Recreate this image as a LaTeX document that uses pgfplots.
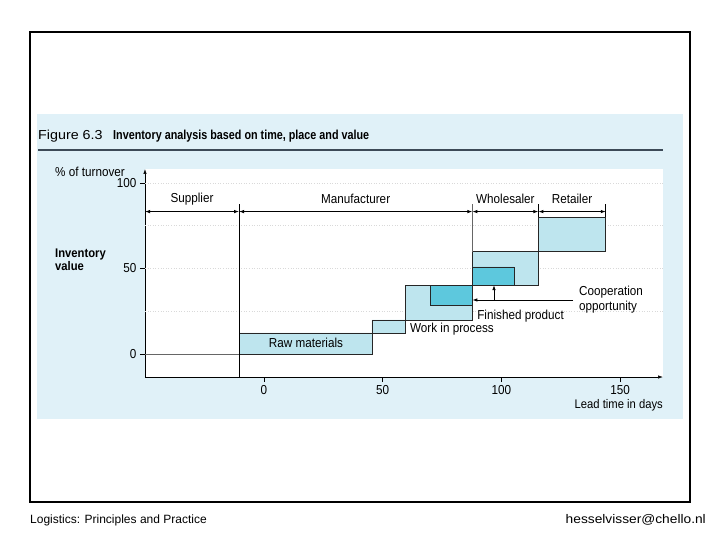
\documentclass[border=0pt]{standalone}
\usepackage{pgfplots}
\pgfplotsset{compat=1.18}
\usetikzlibrary{arrows.meta}
\usepackage{fontspec}
\setmainfont[FakeStretch=0.9]{Liberation Sans}
\newfontfamily\footfont{Liberation Sans}
\newfontfamily\widefont[FakeStretch=1.1]{Liberation Sans}
\newfontfamily\titlefont[FakeStretch=0.83]{Liberation Sans}
\definecolor{panel}{HTML}{E0F1F8}
\definecolor{lightbox}{HTML}{BEE5EE}
\definecolor{darkbox}{HTML}{5DC8DD}
\definecolor{rulecol}{HTML}{3C4A57}
\newcommand{\tf}{\fontsize{13}{15}\selectfont}
\begin{document}
\begin{tikzpicture}[x=1pt,y=-1pt]
\path[use as bounding box] (0,0) rectangle (720,540);
\fill[white] (0,0) rectangle (720,540);
\draw[line width=2pt] (30,32) rectangle (690,502);
\fill[panel] (37,114) rectangle (683,419);
\node[anchor=west,inner sep=0pt,font=\widefont\fontsize{13}{15}\selectfont] at (38,136) {Figure 6.3};
\node[anchor=west,inner sep=0pt,font=\titlefont\bfseries\fontsize{13}{15}\selectfont] at (113,136) {Inventory analysis based on time, place and value};
\draw[line width=1.3pt, rulecol] (38,150) -- (663,150);
\node[anchor=west,inner sep=0pt,font=\footfont\fontsize{12}{14}\selectfont] at (30,520) {Logistics: Principles and Practice};
\node[anchor=east,inner sep=0pt,font=\widefont\fontsize{12.5}{14}\selectfont] at (706,520) {hesselvisser@chello.nl};
\node[anchor=west,inner sep=0pt,font=\tf] at (55,172) {\% of turnover};
\node[anchor=north west,inner sep=0pt,align=left,font=\bfseries\fontsize{12.5}{12.5}\selectfont] at (55,249) {Inventory\\value};
\begin{axis}[
  at={(145pt,-377pt)}, anchor=south west,
  scale only axis, width=518pt, height=208pt,
  xmin=-50.1, xmax=168.1, ymin=-13.45, ymax=108.2,
  axis x line=bottom, axis y line=left,
  axis line style={-{Latex[length=5pt,width=3.5pt]}, line width=0.7pt},
  axis background/.style={fill=white},
  xtick={0,50,100,150}, ytick={0,50,100},
  tick align=outside, major tick length=5pt,
  tick style={black, line width=0.5pt},
  /pgf/number format/assume math mode=true,
  ticklabel style={font=\tf},
  clip=false,
]
% dotted grid
\addplot[dotted, gray!30, line width=0.6pt] coordinates {(-50.1,25) (168.1,25)};
\addplot[dotted, gray!30, line width=0.6pt] coordinates {(-50.1,50) (168.1,50)};
\addplot[dotted, gray!30, line width=0.6pt] coordinates {(-50.1,75) (168.1,75)};
\addplot[dotted, gray!30, line width=0.6pt] coordinates {(-50.1,100) (168.1,100)};
% zero line
\addplot[gray!80!black, line width=0.6pt] coordinates {(-50.1,0) (-10.5,0)};
% boxes
\addplot[fill=lightbox, draw=black!85, line width=0.6pt] coordinates {(-10.5,0) (45.5,0) (45.5,12.3) (-10.5,12.3) (-10.5,0)};
\addplot[fill=lightbox, draw=black!85, line width=0.6pt] coordinates {(45.5,12.3) (59.7,12.3) (59.7,19.9) (45.5,19.9) (45.5,12.3)};
\addplot[fill=lightbox, draw=black!85, line width=0.6pt] coordinates {(59.7,19.9) (87.8,19.9) (87.8,40.3) (59.7,40.3) (59.7,19.9)};
\addplot[fill=darkbox, draw=black!85, line width=0.6pt] coordinates {(70,28.2) (87.8,28.2) (87.8,40.3) (70,40.3) (70,28.2)};
\addplot[fill=lightbox, draw=black!85, line width=0.6pt] coordinates {(87.8,40.3) (115.6,40.3) (115.6,59.8) (87.8,59.8) (87.8,40.3)};
\addplot[fill=darkbox, draw=black!85, line width=0.6pt] coordinates {(87.8,40.3) (105.4,40.3) (105.4,51.0) (87.8,51.0) (87.8,40.3)};
\addplot[fill=lightbox, draw=black!85, line width=0.6pt] coordinates {(115.6,59.8) (144,59.8) (144,80) (115.6,80) (115.6,59.8)};
% boundary lines
\addplot[black, line width=0.6pt] coordinates {(-10.5,-13.45) (-10.5,88)};
\addplot[gray!80!black, line width=0.6pt] coordinates {(87.8,59.8) (87.8,88)};
\addplot[black, line width=0.6pt] coordinates {(115.6,80) (115.6,88)};
\addplot[black, line width=0.6pt] coordinates {(144,80) (144,88)};
% stage arrows
\draw[{Latex[length=5pt,width=3.5pt]}-{Latex[length=5pt,width=3.5pt]}, line width=0.8pt] (axis cs:-50.1,83.3) -- (axis cs:-10.5,83.3);
\draw[{Latex[length=5pt,width=3.5pt]}-{Latex[length=5pt,width=3.5pt]}, line width=0.8pt] (axis cs:-10.5,83.3) -- (axis cs:87.8,83.3);
\draw[{Latex[length=5pt,width=3.5pt]}-{Latex[length=5pt,width=3.5pt]}, line width=0.8pt] (axis cs:87.8,83.3) -- (axis cs:115.6,83.3);
\draw[{Latex[length=5pt,width=3.5pt]}-{Latex[length=5pt,width=3.5pt]}, line width=0.8pt] (axis cs:115.6,83.3) -- (axis cs:144,83.3);
\node[font=\tf] at (axis cs:-30.3,90.6) {Supplier};
\node[font=\tf] at (axis cs:38.65,90.6) {Manufacturer};
\node[font=\tf] at (axis cs:101.7,90.6) {Wholesaler};
\node[font=\tf] at (axis cs:129.8,90.6) {Retailer};
% cooperation arrows
\draw[-{Latex[length=5pt,width=3.5pt]}, line width=0.8pt] (axis cs:130.2,31.6) -- (axis cs:87.8,31.6);
\draw[-{Latex[length=5pt,width=3.5pt]}, line width=0.8pt] (axis cs:96.9,31.6) -- (axis cs:96.9,40.3);
\node[anchor=west,align=left,inner sep=0pt,font=\tf] at (axis cs:132.7,31.6) {Cooperation\\opportunity};
\node[anchor=west,inner sep=0pt,font=\tf] at (axis cs:89.8,22.2) {Finished product};
\node[anchor=west,inner sep=0pt,font=\tf] at (axis cs:61.5,14.6) {Work in process};
\node[font=\tf] at (axis cs:17.7,6.4) {Raw materials};
\node[anchor=north east,inner sep=0pt,font=\fontsize{12.5}{15}\selectfont] at (rel axis cs:1,0) [yshift=-22pt] {Lead time in days};
\end{axis}
\end{tikzpicture}
\end{document}
